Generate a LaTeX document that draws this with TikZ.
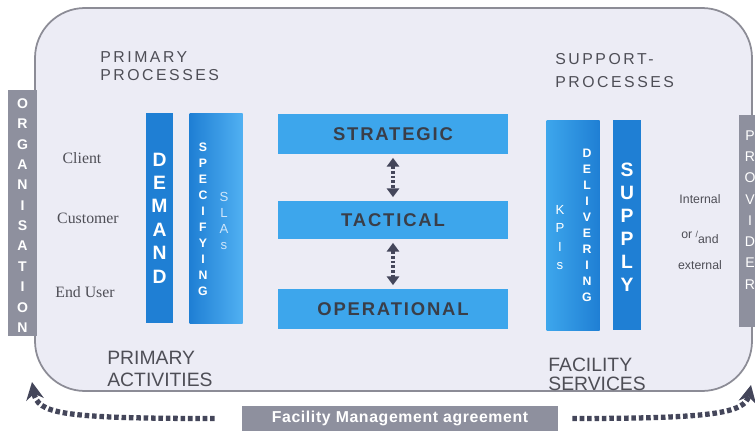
\documentclass[tikz,border=0pt]{standalone}
\usepackage{fontspec}
\setmainfont{Liberation Sans}
\newfontfamily\clientfont{Liberation Serif}
\newfontfamily\headfont[LetterSpace=16]{Liberation Sans}
\newfontfamily\levelfont[LetterSpace=10]{Liberation Sans}
\newfontfamily\agreefont[LetterSpace=4]{Liberation Sans}
\usetikzlibrary{arrows.meta,positioning}
\definecolor{framefill}{HTML}{ECECF5}
\definecolor{framedraw}{HTML}{8C8C96}
\definecolor{bargray}{HTML}{8E909E}
\definecolor{darkblue}{HTML}{1F7FD4}
\definecolor{midblue}{HTML}{3DA6EC}
\definecolor{lightblue}{HTML}{50B0F2}
\definecolor{labelgray}{HTML}{4E4E56}
\definecolor{textdark}{HTML}{3A3E48}
\definecolor{dotgray}{HTML}{44465A}
\definecolor{slacolor}{HTML}{CFE6FA}
\tikzset{
  graybar/.style={fill=bargray,inner sep=0pt,minimum width=0.58cm},
  bluebar/.style={fill=darkblue,inner sep=0pt,minimum width=0.54cm,minimum height=4.2cm},
  widebar/.style={inner sep=0pt,minimum width=1.06cm,minimum height=4.2cm},
  levelbox/.style={fill=midblue,inner sep=0pt,minimum width=4.6cm,minimum height=0.8cm,
    text=textdark,font=\levelfont\bfseries\fontsize{10.5}{12}\selectfont},
  stack/.style={align=center,text=white,inner sep=0pt},
  heading/.style={anchor=north west,align=left,inner sep=0pt,text=labelgray},
  person/.style={text=labelgray,font=\clientfont\fontsize{9}{10}\selectfont},
  levelarrow/.style={{Triangle[length=5pt,width=7pt]}-{Triangle[length=5pt,width=7pt]},
    dotgray,line width=2.2pt,dash pattern=on 1.6pt off 1.1pt,shorten <=2pt,shorten >=2pt},
  agreedots/.style={-{Stealth[length=10pt,width=10pt]},dotgray,line width=3pt,
    dash pattern=on 2.6pt off 1.6pt}
}

\begin{document}
\begin{tikzpicture}
\useasboundingbox (0,0) rectangle (15.1,8.62);

% frame around the processes
\draw[fill=framefill,draw=framedraw,line width=1pt,rounded corners=1cm]
  (0.70,0.80) rectangle (15.04,8.46);

% side bars
\node[graybar,minimum height=4.92cm] (org) at (0.45,4.36) {};
\node[stack,font=\bfseries\fontsize{8}{11.6}\selectfont] (orgtext) at (0.45,4.31)
  {O\\R\\G\\A\\N\\I\\S\\A\\T\\I\\O\\N};
\node[graybar,minimum height=4.24cm] (prov) at (15.06,4.20) {};
\node[stack,font=\fontsize{8}{12.1}\selectfont] (provtext) at (15.0,4.42)
  {P\\R\\O\\V\\I\\D\\E\\R};

% headings
\node[heading,font=\headfont\fontsize{9}{10.3}\selectfont] (primproc) at (2.0,7.60)
  {PRIMARY\\PROCESSES};
\node[heading,font=\headfont\fontsize{9}{13}\selectfont] (suppproc) at (11.1,7.56)
  {SUPPORT-\\PROCESSES};
\node[heading,font=\fontsize{11}{12.5}\selectfont] (primact) at (2.14,1.60)
  {PRIMARY\\ACTIVITIES};
\node[heading,font=\fontsize{11}{10.5}\selectfont] (facserv) at (10.96,1.46)
  {FACILITY\\SERVICES};

% organisation side
\node[person] (client) at (1.64,5.46) {Client};
\node[person] (customer) at (1.76,4.26) {Customer};
\node[person] (enduser) at (1.70,2.78) {End User};

% demand side bars
\node[bluebar] (demand) at (3.19,4.26) {};
\node[stack,font=\bfseries\fontsize{11}{13.3}\selectfont] at (demand) {D\\E\\M\\A\\N\\D};
\node[widebar,shading=axis,left color=darkblue,right color=lightblue] (specify) at (4.32,4.26) {};
\node[stack,font=\bfseries\fontsize{7}{9.1}\selectfont] (spectext) at (4.06,4.23)
  {S\\P\\E\\C\\I\\F\\Y\\I\\N\\G};
\node[stack,text=slacolor,font=\fontsize{7.5}{9.1}\selectfont] (slatext) at (4.48,4.20)
  {S\\L\\A\\s};

% management levels
\node[levelbox] (strat) at (7.86,5.94) {STRATEGIC};
\node[levelbox,minimum height=0.76cm] (tact) at (7.86,4.22) {TACTICAL};
\node[levelbox] (oper) at (7.86,2.44) {OPERATIONAL};
\draw[levelarrow] (strat) -- (tact);
\draw[levelarrow] (tact) -- (oper);

% supply side bars
\node[widebar,shading=axis,left color=midblue,right color=darkblue] (deliver) at (11.46,4.12) {};
\node[stack,font=\fontsize{7.5}{10.3}\selectfont] (kpitext) at (11.20,3.87)
  {K\\P\\I\\s};
\node[stack,font=\bfseries\fontsize{7}{9.1}\selectfont] (deltext) at (11.74,4.11)
  {D\\E\\L\\I\\V\\E\\R\\I\\N\\G};
\node[bluebar,minimum width=0.56cm] (supply) at (12.54,4.12) {};
\node[stack,font=\bfseries\fontsize{11}{13.1}\selectfont] at (12.54,4.07) {S\\U\\P\\P\\L\\Y};

% provider side
\node[text=labelgray,font=\fontsize{7}{8}\selectfont] (internal) at (14.0,4.64) {Internal};
\node[text=labelgray,font=\fontsize{7}{8}\selectfont] (orand) at (14.0,3.88)
  {or \raisebox{1pt}{\fontsize{5}{5}\selectfont/}\raisebox{-2.5pt}{and}};
\node[text=labelgray,font=\fontsize{7}{8}\selectfont] (external) at (14.0,3.32) {external};

% agreement
\node[fill=bargray,inner sep=0pt,minimum width=6.32cm,minimum height=0.5cm,text=white,
  font=\agreefont\bfseries\fontsize{9}{10}\selectfont] (agree) at (8.0,0.25)
  {Facility Management agreement};
\coordinate (orgfoot) at (0.64,0.98);
\coordinate (provfoot) at (15.02,0.92);
\draw[agreedots,shorten <=0.54cm] (agree.west) .. controls (1.2,0.25) and (0.75,0.35) .. (orgfoot);
\draw[agreedots,shorten <=0.28cm] (agree.east) .. controls (14.2,0.25) and (14.9,0.35) .. (provfoot);

\end{tikzpicture}
\end{document}
